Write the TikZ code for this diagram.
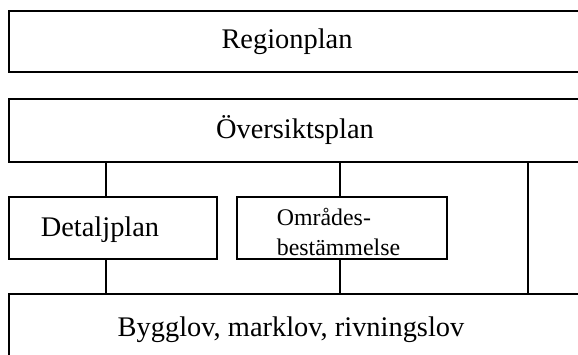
\documentclass[tikz,border=0pt]{standalone}
\usepackage{fontspec}
\setmainfont{Liberation Serif}
\usetikzlibrary{fit}

\begin{document}
\begin{tikzpicture}[x=0.75pt,y=-0.75pt,line width=1.3pt,
    box/.style={draw,rectangle,inner sep=0pt},
    big/.style={font=\fontsize{21.3}{25}\selectfont,inner sep=0pt},
    small/.style={font=\fontsize{17.9}{21.8}\selectfont,align=left,inner sep=0pt}]
    \useasboundingbox (0,0) rectangle (578,354);
    \clip (0,0) rectangle (578,354);

    % boxes
    \node[box,fit={(9,11) (600,72)}](region){};
    \node[box,fit={(9,99) (600,162)}](oversikt){};
    \node[box,fit={(9,197) (217,259)}](detalj){};
    \node[box,fit={(237,197) (447,259)}](omrade){};
    \node[box,fit={(9,294) (600,380)}](bygglov){};

    % texts
    \node[big](regiontext) at (287,42) {Regionplan};
    \node[big](oversikttext) at (295,130) {Översiktsplan};
    \node[big](detaljtext) at (100,230) {Detaljplan};
    \node[small,anchor=west](omradetext) at (276,232) {Områdes-\\bestämmelse};
    \node[big](bygglovtext) at (291,330) {Bygglov, marklov, rivningslov};

    % lines
    \coordinate (cd) at (106,0);
    \coordinate (co) at (340,0);
    \coordinate (cr) at (528,0);
    \draw (cd |- oversikt.south) -- (cd |- detalj.north);
    \draw (cd |- detalj.south) -- (cd |- bygglov.north);
    \draw (co |- oversikt.south) -- (co |- omrade.north);
    \draw (co |- omrade.south) -- (co |- bygglov.north);
    \draw (cr |- oversikt.south) -- (cr |- bygglov.north);
\end{tikzpicture}
\end{document}
